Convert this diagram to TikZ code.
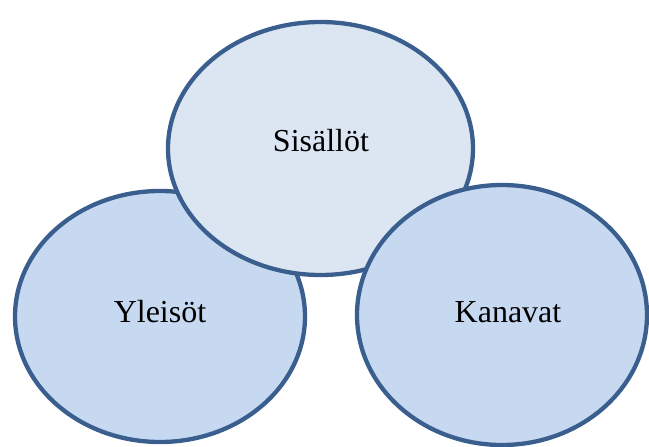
\documentclass[tikz,border=0pt]{standalone}
\usepackage{fontspec}
\setmainfont{Liberation Serif}
\definecolor{edge}{HTML}{3A5F8E}
\definecolor{filltop}{HTML}{DCE6F2}
\definecolor{fillside}{HTML}{C6D9F1}
\begin{document}
\begin{tikzpicture}[x=1pt,y=-1pt,
  blob/.style={draw=edge,line width=4.3pt},
  lbl/.style={font=\fontsize{32}{37}\selectfont,anchor=base,inner sep=0pt}]
\useasboundingbox (0,0) rectangle (649,447);
\fill[fillside] (160,316.5) ellipse [x radius=145, y radius=125.5];
\draw[blob] (160,316.5) ellipse [x radius=145, y radius=125.5];
\coordinate (yc) at (160,316.5);
\fill[filltop] (320.5,148.5) ellipse [x radius=152.5, y radius=126.5];
\draw[blob] (320.5,148.5) ellipse [x radius=152.5, y radius=126.5];
\coordinate (sc) at (320.5,148.5);
\fill[fillside] (502,315) ellipse [x radius=145, y radius=130];
\draw[blob] (502,315) ellipse [x radius=145, y radius=130];
\coordinate (kc) at (502,315);
\node[lbl] (s) at (321,151) {Sisällöt};
\node[lbl] (y) at (160,322) {Yleisöt};
\node[lbl] (k) at (508,322) {Kanavat};
\end{tikzpicture}
\end{document}
